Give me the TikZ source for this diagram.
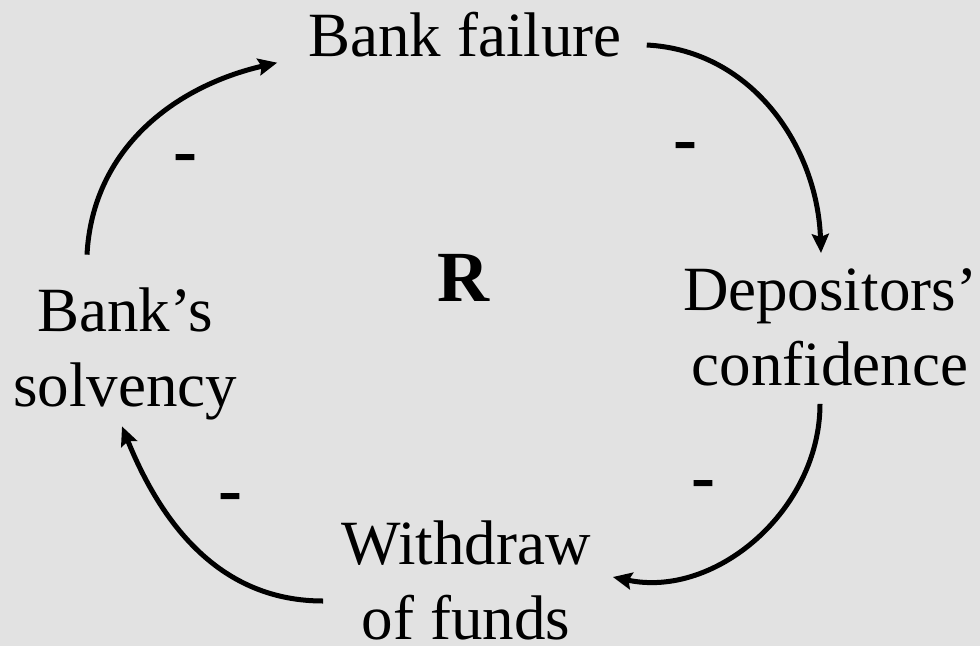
\documentclass[tikz,border=0pt]{standalone}
\usepackage{fontspec}
\setmainfont{Liberation Serif}
\usetikzlibrary{arrows.meta,calc}

\definecolor{paper}{RGB}{226,226,226}

\tikzset{
  label text/.style={inner sep=0pt, align=center,
    font=\fontsize{63}{75}\selectfont},
  sign/.style={inner sep=0pt, anchor=base,
    font=\fontsize{72}{72}\selectfont\bfseries},
  link/.style={line width=5pt,
    -{Stealth[length=19pt,width=17pt,inset=3pt]}},
}

\begin{document}
\begin{tikzpicture}[x=1pt,y=-1pt]
  % canvas
  \fill[paper] (0,0) rectangle (980,646);
  \useasboundingbox (0,0) rectangle (980,646);

  % loop variables
  \node[label text] (fail) at (465,35)  {Bank failure};
  \node[label text] (dep)  at (830,327) {Depositors’\\confidence};
  \node[label text] (wd)   at (466,580) {Withdraw\\of funds};
  \node[label text] (solv) at (125,354) {Bank’s\\solvency};

  % loop type
  \node[sign] (loop) at (463,301) {R};

  % causal links
  \draw[link] ($(solv.north)+(-38,-33)$) to[out=87,in=193]
              ($(fail.south west)+(-31,5)$);
  \draw[link] ($(fail.east)+(25,10)$) to[out=-3,in=92]
              ($(dep.north)+(-9,-15)$);
  \draw[link] ($(dep.south)+(-10,18)$) to[out=-90,in=-12]
              ($(wd.east)+(22,-3)$);
  \draw[link] ($(wd.west)+(-18,21)$) to[out=180,in=-68]
              ($(solv.south)+(-3,6)$);

  % link polarities
  \node[sign] (s1) at (185,174) {-};
  \node[sign] (s2) at (685,162) {-};
  \node[sign] (s3) at (703,500) {-};
  \node[sign] (s4) at (230,513) {-};
\end{tikzpicture}
\end{document}
